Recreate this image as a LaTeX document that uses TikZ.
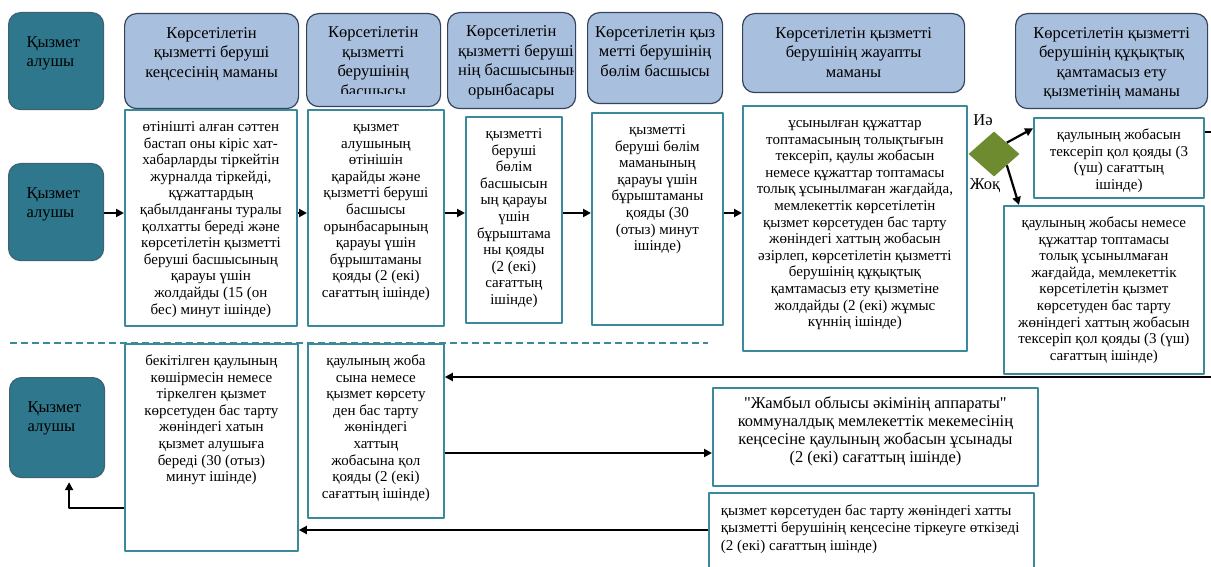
\documentclass[tikz,border=0pt]{standalone}
\usepackage{fontspec}
\setmainfont{Liberation Serif}
\usetikzlibrary{shapes.geometric,arrows.meta}
\definecolor{tealfill}{HTML}{2E778C}
\definecolor{tealline}{HTML}{3E6272}
\definecolor{bluefill}{HTML}{A8BFDE}
\definecolor{blueline}{HTML}{34425A}
\definecolor{boxline}{HTML}{3A8A9C}
\definecolor{olive}{HTML}{6E8B30}
\newcommand{\hfont}{\fontsize{16.5}{19.5}\selectfont}
\newcommand{\bfont}{\fontsize{15}{16.6}\selectfont}
\newcommand{\boxtxt}[3]{\parbox[t][#2][t]{#1}{\centering\strut#3}}
\newcommand{\lefttxt}[3]{\parbox[t][#2][t]{#1}{\raggedright\strut#3}}
\begin{document}
\begin{tikzpicture}[x=1pt, y=-1pt, line join=round, >={Triangle[length=8pt,width=8pt]}]
	\tikzset{q/.style={draw=tealline, fill=tealfill, line width=1.2pt, rounded corners=12pt, anchor=north west, inner xsep=18pt, inner ysep=21pt, font=\hfont},
		h/.style={draw=blueline, fill=bluefill, line width=1.2pt, rounded corners=12pt, anchor=north west, inner xsep=3pt, inner ysep=11pt, font=\hfont},
		ht/.style={anchor=north west, inner xsep=3pt, inner ysep=11pt, font=\hfont},
		s/.style={draw=boxline, fill=white, line width=1.8pt, anchor=north west, inner xsep=3pt, inner ysep=10pt, font=\bfont},
		arr/.style={->, line width=2.4pt}}
	\useasboundingbox (0,0) rectangle (1211,567);
	% dashed separator
	\draw[draw=boxline, line width=1.2pt, dash pattern=on 7pt off 4pt] (10,343) -- (708,343);
	% header row
	\node[q] (Q1) at (8,12) {\lefttxt{59pt}{55pt}{Қызмет\\алушы}};
	\node[h] (H1) at (124,13) {\boxtxt{168pt}{73pt}{Көрсетілетін\\қызметті беруші\\кеңсесінің маманы}};
	\node[h, minimum width=134pt, minimum height=93pt] (H2) at (306,13) {};
	\begin{scope}
		\clip (306,13) rectangle (440,94);
		\node[ht] (H2t) at (306,13) {\boxtxt{128pt}{71pt}{Көрсетілетін\\қызметті\\берушінің\\басшысы}};
	\end{scope}
	\node[h, minimum width=128pt, minimum height=96pt] (H3) at (447,12) {};
	\begin{scope}
		\clip (447,12) rectangle (573,108);
		\node[ht, inner xsep=11pt] (H3t) at (447,12) {\boxtxt{106pt}{74pt}{Көрсетілетін\\\mbox{қызметті беруші}\\\mbox{нің басшысының}\\орынбасары}};
	\end{scope}
	\node[h] (H4) at (587,12) {\boxtxt{129pt}{69pt}{Көрсетілетін қыз\\метті берушінің\\бөлім басшысы}};
	\node[h] (H5) at (742,13) {\boxtxt{216pt}{57pt}{Көрсетілетін қызметті\\берушінің жауапты\\маманы}};
	\node[h] (H6) at (1015,13) {\boxtxt{186pt}{73pt}{Көрсетілетін қызметті\\берушінің құқықтық\\қамтамасыз ету\\қызметінің маманы}};
	% first row of steps
	\node[q] (Q2) at (8,163) {\lefttxt{59pt}{55pt}{Қызмет\\алушы}};
	\node[s] (B1) at (124,109) {\boxtxt{166pt}{196pt}{өтінішті алған сәттен\\бастап оны кіріс хат-\\хабарларды тіркейтін\\журналда тіркейді,\\құжаттардың\\қабылданғаны туралы\\қолхатты береді және\\көрсетілетін қызметті\\беруші басшысының\\қарауы үшін\\жолдайды (15 (он\\бес) минут ішінде)}};
	\node[s] (B2) at (307,109) {\boxtxt{130pt}{196pt}{қызмет\\алушының\\өтінішін\\қарайды және\\қызметті беруші\\басшысы\\орынбасарының\\қарауы үшін\\бұрыштаманы\\қояды (2 (екі)\\сағаттың ішінде)}};
	\node[s] (B3) at (465,116) {\boxtxt{90pt}{186pt}{қызметті\\беруші\\бөлім\\басшысын\\ың қарауы\\үшін\\бұрыштама\\ны қояды\\(2 (екі)\\сағаттың\\ішінде)}};
	\node[s] (B4) at (591,112) {\boxtxt{125pt}{192pt}{қызметті\\беруші бөлім\\маманының\\қарауы үшін\\бұрыштаманы\\қояды (30\\(отыз) минут\\ішінде)}};
	\node[s] (B5) at (742,105) {\boxtxt{218pt}{225pt}{ұсынылған құжаттар\\топтамасының толықтығын\\тексеріп, қаулы жобасын\\немесе құжаттар топтамасы\\толық ұсынылмаған жағдайда,\\мемлекеттік көрсетілетін\\қызмет көрсетуден бас тарту\\жөніндегі хаттың жобасын\\әзірлеп, көрсетілетін қызметті\\берушінің құқықтық\\қамтамасыз ету қызметіне\\жолдайды (2 (екі) жұмыс\\күннің ішінде)}};
	\node[diamond, fill=olive, minimum width=51pt, minimum height=45pt, inner sep=0pt] (dec) at (994,154) {};
	\node[font=\hfont] (yes) at (983,120) {Иә};
	\node[font=\hfont] (no) at (985,186) {Жоқ};
	\node[s] (B6) at (1033,117) {\boxtxt{164pt}{60pt}{қаулының жобасын\\тексеріп қол қояды (3\\(үш) сағаттың\\ішінде)}};
	\node[s] (B7) at (1003,205) {\boxtxt{194pt}{148pt}{қаулының жобасы немесе\\құжаттар топтамасы\\толық ұсынылмаған\\жағдайда, мемлекеттік\\көрсетілетін қызмет\\көрсетуден бас тарту\\жөніндегі хаттың жобасын\\тексеріп қол қояды (3 (үш)\\сағаттың ішінде)}};
	% second row of steps
	\node[q] (Q3) at (9,377) {\lefttxt{59pt}{58pt}{Қызмет\\алушы}};
	\node[s] (B8) at (124,343) {\boxtxt{167pt}{187pt}{бекітілген қаулының\\көшірмесін немесе\\тіркелген қызмет\\көрсетуден бас тарту\\жөніндегі хатын\\қызмет алушыға\\береді (30 (отыз)\\минут ішінде)}};
	\node[s] (B9) at (307,343) {\boxtxt{130pt}{154pt}{қаулының жоба\\сына немесе\\қызмет көрсету\\ден бас тарту\\жөніндегі\\хаттың\\жобасына қол\\қояды (2 (екі)\\сағаттың ішінде)}};
	\node[s, font=\fontsize{16.5}{18}\selectfont, inner ysep=8pt] (B10) at (712,387) {\boxtxt{319pt}{82pt}{\textquotedbl Жамбыл облысы әкімінің аппараты\textquotedbl\\коммуналдық мемлекеттік мекемесінің\\кеңсесіне қаулының жобасын ұсынады\\(2 (екі) сағаттың ішінде)}};
	\node[s, inner xsep=12pt, font=\fontsize{15}{17.5}\selectfont] (B11) at (708,492) {\lefttxt{301pt}{80pt}{\mbox{қызмет көрсетуден бас тарту жөніндегі хатты}\\\mbox{қызметті берушінің кеңсесіне тіркеуге өткізеді}\\(2 (екі) сағаттың ішінде)}};
	% connectors
	\coordinate (rowA) at (0,213);
	\coordinate (rowB) at (0,453);
	\coordinate (rowC) at (0,530);
	\coordinate (rowD) at (0,508);
	\coordinate (outA) at (1211,132);
	\coordinate (outB) at (1211,377);
	\foreach \x/\y in {Q2/B1,B1/B2,B2/B3,B3/B4,B4/B5}
	\draw[arr](\x.east |- rowA)--(\y.west |- rowA);
	\draw[arr, line width=2.2pt](dec.north east)--(B6.161);
	\draw[arr, line width=2.2pt](dec.south east)--(B7.135);
	\draw[line width=2.4pt](B6.east |- outA)--(outA);
	\draw[arr, line width=2.6pt](outB)--(B9.east |- outB);
	\draw[arr](B9.east |- rowB)--(B10.west |- rowB);
	\draw[arr](B11.west |- rowC)--(B8.east |- rowC);
	\draw[arr, shorten >=4pt](B8.west |- rowD)-|([xshift=12pt]Q3.south);
\end{tikzpicture}
\end{document}
